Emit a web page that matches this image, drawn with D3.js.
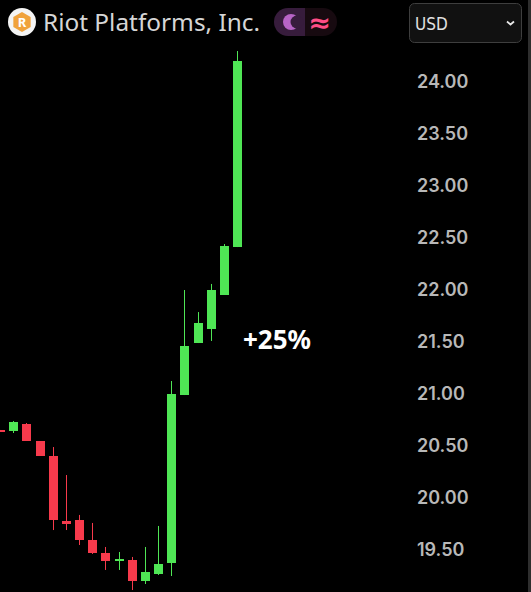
<!DOCTYPE html>
<html><head><meta charset="utf-8">
<script src="https://cdn.jsdelivr.net/npm/d3@7/dist/d3.min.js"></script>
<style>html,body{margin:0;padding:0;background:#000;overflow:hidden}svg{display:block}</style>
</head><body><svg id="c" width="531" height="592"></svg>
<script>
const openPrices  = [20.654,20.644,20.712,20.548,20.404,19.779,19.788,19.596,19.471,19.394,19.404,19.202,19.269,19.375,20.990,21.490,21.625,21.952,22.413];
const highPrices  = [20.654,20.740,20.721,20.548,20.490,20.221,19.837,19.760,19.529,19.481,19.433,19.529,19.731,21.125,22.000,21.788,22.058,22.442,24.298];
const lowPrices   = [20.635,20.625,20.548,20.404,19.692,19.692,19.548,19.462,19.308,19.308,19.115,19.173,19.260,19.250,20.990,21.490,21.510,21.952,22.413];
const closePrices = [20.635,20.731,20.548,20.404,19.788,19.750,19.596,19.471,19.394,19.413,19.202,19.288,19.365,21.000,21.462,21.683,22.000,22.423,24.202];
const priceTicks = [24,23.5,23,22.5,22,21.5,21,20.5,20,19.5];
const titleText = "Riot Platforms, Inc.";
const currency = "USD";
const annotation = "+25%";

const svg = d3.select("#c");
const x = d3.scalePoint().domain(d3.range(openPrices.length)).range([0,237]);
const y = d3.scaleLinear().domain([24,19.5]).range([82,550]);
const up = "#4fe655", down = "#f73a4c";
const rows = openPrices.map((o,i)=>({i,o,h:highPrices[i],l:lowPrices[i],c:closePrices[i]}));
const col = d=>d.c>=d.o?up:down;
const cx = d=>Math.round(x(d.i));

svg.append("g").selectAll("line").data(rows).join("line")
  .attr("x1",d=>cx(d)+0.5).attr("x2",d=>cx(d)+0.5)
  .attr("y1",d=>y(d.h)).attr("y2",d=>y(d.l))
  .attr("stroke",col).attr("stroke-width",1);
svg.append("g").selectAll("rect").data(rows).join("rect")
  .attr("x",d=>cx(d)-4).attr("width",9)
  .attr("y",d=>Math.round(y(Math.max(d.o,d.c))))
  .attr("height",d=>Math.max(2,Math.round(Math.abs(y(d.o)-y(d.c)))))
  .attr("fill",col);

const axis = d3.axisRight(y).tickValues(priceTicks).tickFormat(d3.format(".2f")).tickSize(0).tickPadding(0);
const ag = svg.append("g").attr("transform","translate(417,0)").call(axis);
ag.select(".domain").remove();
ag.selectAll("text").attr("fill","#b8b8b8").attr("font-family","Inter,sans-serif").attr("font-size",18).attr("font-weight",600);

svg.append("text").attr("x",243).attr("y",349).attr("fill","#fff")
  .attr("font-family","'Noto Sans',sans-serif").attr("font-size",26).attr("font-weight",700).text(annotation);

// header
svg.append("circle").attr("cx",22).attr("cy",22).attr("r",14).attr("fill","#f4f4f4");
svg.append("path").attr("d",d3.line()(d3.range(6).map(k=>{const a=Math.PI/3*k-Math.PI/2;return [22+10*Math.cos(a),22+10*Math.sin(a)];}))+"Z").attr("fill","#f0a23c");
svg.append("text").attr("x",22).attr("y",26.5).attr("text-anchor","middle").attr("fill","#fff").attr("font-family","'Noto Sans',sans-serif").attr("font-weight",700).attr("font-size",13).text("R");
svg.append("text").attr("x",43).attr("y",31).attr("fill","#d6d6d6")
  .attr("font-family","'Noto Sans',sans-serif").attr("font-size",24.4).text(titleText);

svg.append("path").attr("d","M305,8H288a14,14 0 0 0 0,28H305Z").attr("fill","#371c3c");
svg.append("path").attr("d","M305,8H323a14,14 0 0 1 0,28H305Z").attr("fill","#170a10");
svg.append("circle").attr("cx",291).attr("cy",22).attr("r",8).attr("fill","#b764c6");
svg.append("circle").attr("cx",297).attr("cy",22).attr("r",6.5).attr("fill","#371c3c");
svg.append("text").attr("x",319.5).attr("y",32).attr("text-anchor","middle").attr("fill","#ff4d85").attr("font-family","'DejaVu Sans',sans-serif").attr("font-size",27).attr("font-weight",700).text("≈");

svg.append("rect").attr("x",409.5).attr("y",3.5).attr("width",112).attr("height",39).attr("rx",5).attr("fill","#111").attr("stroke","#3e3e3e");
svg.append("text").attr("x",415).attr("y",29.5).attr("fill","#e0e0e0").attr("font-family","'DejaVu Sans Condensed','DejaVu Sans',sans-serif").attr("font-stretch","condensed").attr("font-size",17).text(currency);
svg.append("path").attr("d","M507,21.5l3.5,3l3.5,-3").attr("fill","none").attr("stroke","#e8e8e8").attr("stroke-width",1.8);

svg.append("rect").attr("x",528).attr("y",0).attr("width",3).attr("height",592).attr("fill","#2e2e2e");
</script></body></html>
